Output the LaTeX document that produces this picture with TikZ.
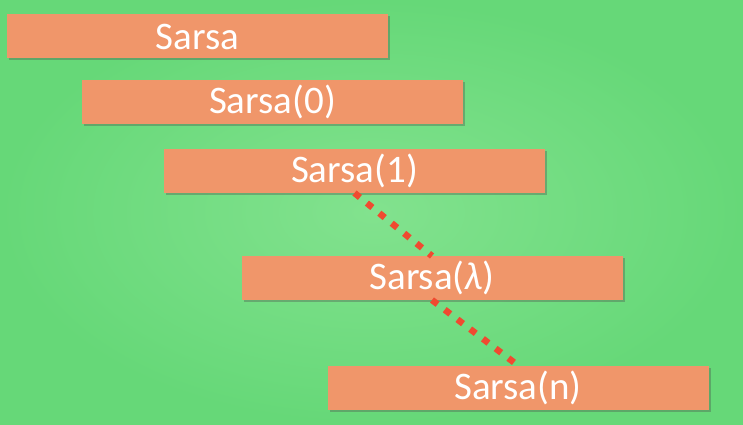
\documentclass[tikz,border=0pt]{standalone}
\usepackage{fontspec}
\setmainfont{Carlito}
\usetikzlibrary{shadows}
\definecolor{bgouter}{RGB}{102,216,120}
\definecolor{bginner}{RGB}{130,226,142}
\definecolor{boxfill}{RGB}{240,150,106}
\definecolor{dotred}{RGB}{240,74,48}
\tikzset{
    stage/.style = {rectangle, fill=boxfill, minimum width=381pt, minimum height=44pt, inner sep=0pt, outer sep=0pt,
      text=white, font=\fontsize{39}{42}\selectfont,
      drop shadow={shadow xshift=2pt, shadow yshift=-2pt, opacity=0.35, fill=black!70}},
    link/.style = {draw=dotred, line width=6.5pt, dash pattern=on 7pt off 9pt}
}
\begin{document}
\begin{tikzpicture}[x=1pt,y=1pt]
  \shade[inner color=bginner, outer color=bgouter] (0,0) rectangle (743,424);
  \useasboundingbox (0,0) rectangle (743,424);

  \node[stage] (s)      at (197.5,387.5) {Sarsa};
  \node[stage] (s0)     at (272.5,322)   {Sarsa(0)};
  \node[stage] (s1)     at (354.5,253)   {Sarsa(1)};
  \node[stage] (slam)   at (432,146)     {Sarsa({\itshape λ})};
  \node[stage] (sn)     at (518,36.5)    {Sarsa(n)};

  \draw[link] (s1.south) -- (slam.north);
  \draw[link] (slam.south) -- (sn.north);
\end{tikzpicture}
\end{document}
